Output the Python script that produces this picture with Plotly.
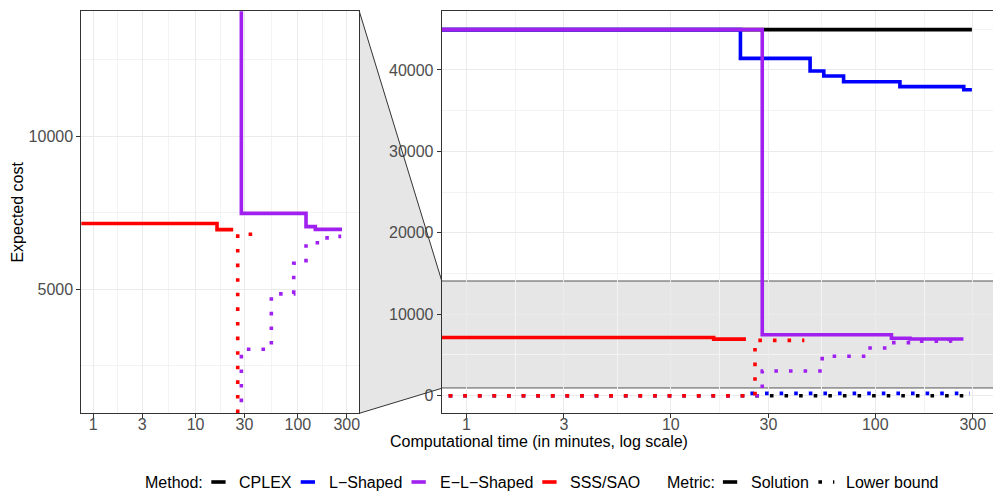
import plotly.graph_objects as go

# ---------------- data (time in minutes, expected cost) ----------------
methods = ["CPLEX", "L−Shaped", "E−L−Shaped", "SSS/SAO"]
method_colors = ["#000000", "#0000FF", "#A020F0", "#FF0000"]
metrics = ["Solution", "Lower bound"]

cplex_sol_t = [0.5, 297]
cplex_sol_v = [44950, 44950]
cplex_lb_t = [0.5, 290]
cplex_lb_v = [0, 0]

ls_sol_t = [0.5, 21.9, 48, 56, 70, 132, 271, 297]
ls_sol_v = [44950, 41430, 39880, 39260, 38560, 37950, 37580, 37580]
ls_lb_t = [24.5, 290]
ls_lb_v = [280, 280]

els_sol_t = [0.5, 28, 120, 148, 270]
els_sol_v = [44950, 7480, 7050, 6960, 6960]
els_lb_t = [0.5, 28, 55, 91, 120, 165, 230, 265]
els_lb_v = [0, 3040, 4850, 5850, 6520, 6680, 6730, 6730]

sss_sol_t = [0.5, 16.2, 23.3]
sss_sol_v = [7150, 6950, 6950]
sss_lb_t = [0.5, 25.8, 45]
sss_lb_v = [0, 6800, 6800]

x_ticks = [1, 3, 10, 30, 100, 300]
y_ticks_main = [0, 10000, 20000, 30000, 40000]
y_ticks_zoom = [5000, 10000]
zoom_lo, zoom_hi = 948, 14085

series = [
    (0, cplex_sol_t, cplex_sol_v, 0),
    (0, cplex_lb_t, cplex_lb_v, 1),
    (1, ls_sol_t, ls_sol_v, 0),
    (1, ls_lb_t, ls_lb_v, 1),
    (2, els_sol_t, els_sol_v, 0),
    (2, els_lb_t, els_lb_v, 1),
    (3, sss_sol_t, sss_sol_v, 0),
    (3, sss_lb_t, sss_lb_v, 1),
]

# ---------------- style ----------------
W, H = 993, 493
FONT = "Liberation Sans"
LW = 3.6
DOT = "3.6px,11px"


def fx(p):
    return p / W


def fy(p):
    return 1 - p / H


fig = go.Figure()

for (mi, t, v, k) in series:
    for xa, ya in (("x", "y"), ("x2", "y2")):
        fig.add_trace(go.Scatter(
            x=t, y=v, mode="lines", line_shape="hv",
            line=dict(color=method_colors[mi], width=LW,
                      dash="solid" if k == 0 else DOT),
            xaxis=xa, yaxis=ya, showlegend=False, hoverinfo="skip",
        ))

minor_x = [1.732, 5.477, 17.32, 54.77, 173.2]
tickfont = dict(family=FONT, size=16, color="#4d4d4d")

common_x = dict(type="log", tickvals=x_ticks, ticktext=[str(v) for v in x_ticks],
                showgrid=True, gridcolor="#ebebeb", gridwidth=1.1,
                minor=dict(tickvals=minor_x, showgrid=True, gridcolor="#f3f3f3",
                           gridwidth=1, ticks=""),
                ticks="outside", ticklen=4, tickcolor="#333333", tickwidth=1,
                ticklabelstandoff=-8,
                showline=True, linecolor="#333333", linewidth=1, mirror=True,
                zeroline=False, tickfont=tickfont, automargin=False)
common_y = dict(showgrid=True, gridcolor="#ebebeb", gridwidth=1.1,
                ticks="outside", ticklen=4, tickcolor="#333333", tickwidth=1,
                showline=True, linecolor="#333333", linewidth=1, tickformat="d",
                zeroline=False, tickfont=tickfont, automargin=False)

fig.update_layout(
    width=W, height=H,
    margin=dict(l=0, r=0, t=0, b=0),
    paper_bgcolor="white", plot_bgcolor="white",
    font=dict(family=FONT, size=16, color="#000000"),
    showlegend=False,
    xaxis=dict(common_x, domain=[fx(81.3), fx(359.3)], range=[-0.117, 2.600], anchor="y"),
    yaxis=dict(common_y, domain=[fy(413.3), fy(11.3)], range=[zoom_lo, zoom_hi],
               tickvals=y_ticks_zoom, anchor="x", mirror=True,
               minor=dict(tickvals=[2500, 7500, 12500], showgrid=True,
                          gridcolor="#f3f3f3", gridwidth=1, ticks=""),
               title=dict(text="Expected cost", font=dict(family=FONT, size=16, color="#000"),
                          standoff=0)),
    xaxis2=dict(common_x, domain=[fx(441.7), 1.0], range=[-0.121, 2.576], anchor="y2"),
    yaxis2=dict(common_y, domain=[fy(413.3), fy(11.3)], range=[-2161, 47206],
                tickvals=y_ticks_main, anchor="x2", mirror=False,
                minor=dict(tickvals=[5000, 15000, 25000, 35000, 45000], showgrid=True,
                           gridcolor="#f3f3f3", gridwidth=1, ticks="")),
)

# zoom band in the overview panel
fig.add_shape(type="rect", xref="x2 domain", yref="y2", x0=0, x1=1,
              y0=zoom_lo, y1=zoom_hi, fillcolor="#e6e6e6", line=dict(width=0),
              layer="below")
for yv in (zoom_lo, zoom_hi):
    fig.add_shape(type="line", xref="x2 domain", yref="y2", x0=0, x1=1,
                  y0=yv, y1=yv, line=dict(color="#555555", width=1), layer="below")

# connector between panels
path = "M {a},{b} L {c},{d} L {c},{e} L {a},{f} Z".format(
    a=fx(359.3), b=fy(11.3), c=fx(441.7), d=fy(280.7), e=fy(388.3), f=fy(413.3))
fig.add_shape(type="path", xref="paper", yref="paper", path=path,
              fillcolor="#e6e6e6", line=dict(width=0), layer="below")
fig.add_shape(type="line", xref="paper", yref="paper", x0=fx(359.3), y0=fy(11.3),
              x1=fx(441.7), y1=fy(280.7), line=dict(color="#333333", width=1))
fig.add_shape(type="line", xref="paper", yref="paper", x0=fx(359.3), y0=fy(413.3),
              x1=fx(441.7), y1=fy(388.3), line=dict(color="#333333", width=1))

fig.add_annotation(text="Computational time (in minutes, log scale)", xref="paper", yref="paper",
                   x=fx(539), y=fy(441), showarrow=False, xanchor="center", yanchor="middle",
                   font=dict(family=FONT, size=16, color="#000000"))

# ---------------- legend (two groups, drawn as keys + labels) ----------------
LEG_Y = fy(482)
legend_font = dict(family=FONT, size=16, color="#000000")


def legend_text(x, txt):
    fig.add_annotation(text=txt, xref="paper", yref="paper", x=fx(x), y=LEG_Y,
                       showarrow=False, xanchor="left", yanchor="middle", font=legend_font)


def legend_key(x_text, color, dash, extra=0.0):
    fig.add_shape(type="line", xref="paper", yref="paper",
                  x0=fx(x_text - 26), x1=fx(x_text - 11.7 + extra), y0=LEG_Y, y1=LEG_Y,
                  line=dict(color=color, width=LW, dash=dash))


legend_text(143.3, "Method:")
for xt, name, col in zip([237.3, 326.7, 437.5, 568.3], methods, method_colors):
    legend_key(xt, col, "solid")
    legend_text(xt, name)

legend_text(664.6, "Metric:")
for xt, name, dash, ext in zip([748.9, 844.4], metrics, ["solid", DOT], [0.0, 1.6]):
    legend_key(xt, "#000000", dash, ext)
    legend_text(xt, name)

fig.write_html("out.html", config={"displayModeBar": False},
               post_script="document.body.style.margin='0';document.body.style.overflow='hidden';")
